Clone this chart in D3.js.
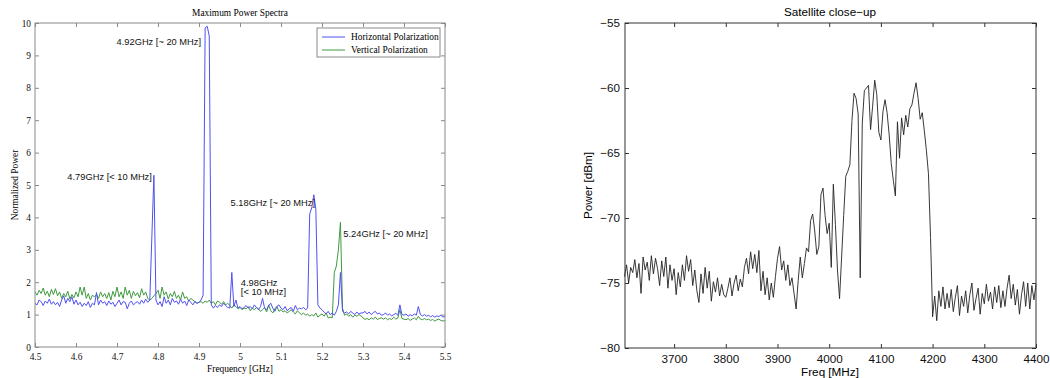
<!DOCTYPE html>
<html>
<head>
<meta charset="utf-8">
<script src="https://cdn.jsdelivr.net/npm/d3@7"></script>
<style>
  body { margin: 0; background: #fff; }
</style>
</head>
<body>
<div id="chart"></div>
<script>
// left panel: normalized max power, sampled every 5 MHz from 4.5 GHz
const leftFreqStart = 4.5;
const leftFreqStep = 0.005;

const horizontalPol = [
  1.35, 1.30, 1.45, 1.40, 1.28, 1.42, 1.35, 1.48, 1.32, 1.40,
  1.30, 1.38, 1.25, 1.45, 1.58, 1.35, 1.50, 1.40, 1.55, 1.32,
  1.45, 1.30, 1.38, 1.25, 1.35, 1.28, 1.40, 1.22, 1.35, 1.30,
  1.68, 1.30, 1.45, 1.35, 1.40, 1.28, 1.42, 1.32, 1.38, 1.25,
  1.35, 1.45, 1.30, 1.40, 1.38, 1.18, 1.35, 1.42, 1.30, 1.36,
  1.40, 1.32, 1.45, 1.35, 1.48, 1.38, 1.45, 3.40, 5.30, 1.45,
  1.30, 1.40, 1.25, 1.55, 1.35, 1.45, 1.30, 1.50, 1.38, 1.42,
  1.32, 1.48, 1.35, 1.42, 1.28, 1.45, 1.38, 1.30, 1.40, 1.35,
  1.38, 1.45, 1.60, 9.85, 9.90, 9.60, 1.30, 1.20, 1.28, 1.22,
  1.30, 1.25, 1.35, 1.28, 1.22, 1.20, 2.30, 1.25, 1.45, 1.20,
  1.25, 1.18, 1.22, 1.28, 1.20, 1.25, 1.18, 1.30, 1.22, 1.15,
  1.25, 1.50, 1.20, 1.15, 1.28, 1.35, 1.20, 1.10, 1.25, 1.30,
  1.20, 1.15, 1.25, 1.12, 1.18, 1.22, 1.10, 1.28, 1.15, 1.20,
  1.18, 1.22, 1.15, 1.20, 4.10, 4.30, 4.70, 4.25, 1.30, 1.20,
  1.15, 1.08, 1.02, 1.10, 1.00, 1.05, 0.98, 1.10, 1.30, 2.30,
  1.10, 1.05, 1.08, 1.02, 1.10, 1.05, 1.00, 1.08, 1.02, 1.05,
  1.05, 1.10, 1.02, 1.08, 1.00, 1.06, 1.10, 1.02, 1.05, 0.98,
  1.00, 1.05, 0.98, 1.02, 0.96, 1.00, 1.04, 0.98, 1.30, 1.00,
  0.98, 1.02, 0.95, 1.00, 0.96, 1.02, 0.98, 1.25, 1.00, 0.96,
  1.00, 0.95, 0.98, 0.93, 0.97, 0.92, 0.96, 0.94, 0.98, 0.92,
  0.95
];

const verticalPol = [
  1.70, 1.60, 1.75, 1.65, 1.82, 1.60, 1.72, 1.55, 1.78, 1.62,
  1.80, 1.58, 1.70, 1.50, 1.65, 1.55, 1.72, 1.48, 1.62, 1.52,
  1.70, 1.55, 1.85, 1.60, 1.85, 1.50, 1.65, 1.45, 1.60, 1.55,
  1.62, 1.50, 1.70, 1.55, 1.65, 1.50, 1.68, 1.45, 1.72, 1.55,
  1.85, 1.55, 1.70, 1.50, 1.85, 1.60, 1.75, 1.50, 1.72, 1.58,
  1.68, 1.52, 1.80, 1.60, 1.70, 1.50, 1.45, 1.50, 1.58, 1.65,
  1.75, 1.50, 1.85, 1.60, 1.70, 1.48, 1.65, 1.55, 1.72, 1.50,
  1.60, 1.45, 1.70, 1.50, 1.55, 1.42, 1.50, 1.45, 1.40, 1.35,
  1.38, 1.40, 1.35, 1.42, 1.38, 1.45, 1.35, 1.40, 1.30, 1.42,
  1.38, 1.32, 1.40, 1.30, 1.35, 1.28, 1.20, 1.30, 1.25, 1.18,
  1.22, 1.15, 1.20, 1.18, 1.25, 1.12, 1.20, 1.15, 1.22, 1.18,
  1.10, 1.15, 1.22, 1.08, 1.30, 1.12, 1.05, 1.18, 1.25, 1.10,
  1.15, 1.08, 1.12, 1.05, 1.10, 1.15, 1.08, 1.02, 1.12, 1.05,
  1.00, 1.05, 0.98, 1.02, 0.95, 1.00, 0.96, 1.05, 0.92, 0.98,
  1.02, 0.95, 1.05, 0.90, 0.92, 0.90, 2.30, 2.50, 3.00, 3.85,
  1.20, 0.98, 1.02, 0.95, 1.00, 0.92, 0.98, 0.95, 1.00, 0.96,
  0.90, 0.85, 0.88, 0.84, 0.90, 0.86, 0.92, 0.85, 0.88, 0.90,
  0.86, 0.90, 0.84, 0.88, 0.85, 0.92, 0.86, 0.90, 1.15, 0.88,
  0.86, 0.84, 0.88, 0.82, 0.86, 0.90, 0.84, 0.95, 0.86, 0.84,
  0.88, 0.84, 0.86, 0.82, 0.85, 0.80, 0.84, 0.86, 0.82, 0.80,
  0.82
];

const leftXTicks = [4.5, 4.6, 4.7, 4.8, 4.9, 5, 5.1, 5.2, 5.3, 5.4, 5.5];
const leftYTicks = [0, 1, 2, 3, 4, 5, 6, 7, 8, 9, 10];
const seriesNames = ['Horizontal Polarization', 'Vertical Polarization'];

// peak labels, placed in data units (anchor 'end' = text ends there)
const peakLabels = [
  { lines: ['4.92GHz [~ 20 MHz]'], f: 4.905, v: 9.42, anchor: 'end' },
  { lines: ['4.79GHz [< 10 MHz]'], f: 4.785, v: 5.26, anchor: 'end' },
  { lines: ['5.18GHz [~ 20 MHz]'], f: 5.183, v: 4.45, anchor: 'end' },
  { lines: ['5.24GHz [~ 20 MHz]'], f: 5.252, v: 3.49, anchor: 'start' },
  { lines: ['4.98GHz', '[< 10 MHz]'], f: 5.002, v: 1.97, anchor: 'start' }
];

// right panel: satellite close-up, every 4 MHz from 3604 MHz
const satFreqStart = 3604;
const satFreqStep = 4;
const satPower = [
  -74.5, -73.6, -75.0, -73.8, -74.2, -73.2, -74.6, -73.5, -75.8, -73.0,
  -74.0, -73.4, -74.8, -72.9, -74.3, -73.1, -73.9, -75.2, -73.3, -74.5,
  -73.0, -75.4, -73.6, -74.8, -73.9,
  -75.9, -74.2, -75.3, -73.6, -74.8, -72.9, -74.1, -73.2, -75.2, -74.0,
  -75.6, -76.5, -74.3, -75.8, -73.8, -75.4, -74.1, -76.4, -74.9, -75.7,
  -74.6, -76.0, -75.1, -75.9, -76.1,
  -75.4, -74.6, -76.0, -75.0, -74.4, -75.6, -74.7, -75.3, -73.8, -73.1,
  -74.3, -72.6, -73.9, -72.8, -74.2, -72.5, -75.6, -74.1, -75.9, -74.6,
  -76.3, -75.0, -76.1, -74.5, -73.1,
  -72.2, -74.0, -73.3, -74.8, -73.6, -75.2, -74.6, -75.8, -77.0, -74.8,
  -73.0, -74.6, -73.5, -72.3, -72.6, -70.2, -69.7, -71.0, -72.8, -72.2,
  -68.2, -67.7, -69.8, -71.2, -70.4,
  -73.8, -67.4, -70.5, -74.0, -76.2, -73.0, -69.8, -66.8, -66.4, -65.9,
  -62.5, -60.4, -60.8, -62.0, -74.6, -62.7, -60.2, -60.0, -59.8, -63.2,
  -61.4, -59.4, -60.5, -63.4, -64.0,
  -61.8, -60.9, -61.9, -63.6, -65.8, -67.1, -68.3, -62.6, -65.4, -62.3,
  -63.6, -62.1, -63.0, -61.6, -61.3, -60.4, -59.6, -60.8, -62.4, -61.9,
  -63.3, -64.8, -66.6, -71.5, -77.6,
  -76.0, -77.9, -75.6, -76.8, -75.3, -77.0, -75.8, -76.9, -75.5, -77.2,
  -76.1, -75.2, -77.5, -76.0, -76.8, -75.6, -77.3, -75.9, -75.0, -77.1,
  -76.2, -75.4, -77.4, -75.8, -76.6, -75.1, -76.4, -75.7, -77.0, -75.3,
  -76.5, -75.2, -76.9, -75.6, -76.8, -75.4, -74.4, -76.2, -75.1, -76.7,
  -75.5, -77.4, -75.9, -74.9, -76.8, -75.0, -77.0, -75.2, -76.3, -75.1
];
const satXTicks = [3700, 3800, 3900, 4000, 4100, 4200, 4300, 4400];
const satYTicks = [-80, -75, -70, -65, -60, -55];

const serif = "'Liberation Serif', 'Times New Roman', serif";
const sans = "'Liberation Sans', Arial, sans-serif";

const svg = d3.select('#chart').append('svg')
  .attr('width', 1050)
  .attr('height', 378)
  .style('display', 'block');

// ---------- left panel ----------
const L = { left: 35, right: 445, top: 23, bottom: 347 };
const xL = d3.scaleLinear().domain([4.5, 5.5]).range([L.left, L.right]);
const yL = d3.scaleLinear().domain([0, 10]).range([L.bottom, L.top]);

const gL = svg.append('g');
const axisGrey = '#8a8a8a';

function styleAxis(g, color, font, size) {
  g.select('.domain').remove();
  g.selectAll('line').attr('stroke', color);
  g.selectAll('text').style('font', `${size}px ${font}`).attr('fill', '#111');
}

gL.append('g')
  .attr('transform', `translate(0,${L.bottom})`)
  .call(d3.axisBottom(xL).tickValues(leftXTicks).tickSize(-4).tickPadding(6).tickFormat(d3.format('~g')))
  .call((g) => styleAxis(g, axisGrey, serif, 9.4));
gL.append('g')
  .attr('transform', `translate(0,${L.top})`)
  .call(d3.axisTop(xL).tickValues(leftXTicks).tickSize(-4).tickFormat(''))
  .call((g) => styleAxis(g, axisGrey, serif, 9.4));
gL.append('g')
  .attr('transform', `translate(${L.left},0)`)
  .call(d3.axisLeft(yL).tickValues(leftYTicks).tickSize(-4).tickPadding(4))
  .call((g) => styleAxis(g, axisGrey, serif, 9.4));
gL.append('g')
  .attr('transform', `translate(${L.right},0)`)
  .call(d3.axisRight(yL).tickValues(leftYTicks).tickSize(-4).tickFormat(''))
  .call((g) => styleAxis(g, axisGrey, serif, 9.4));

const lineL = d3.line()
  .x((d, i) => xL(leftFreqStart + i * leftFreqStep))
  .y((d) => yL(d));

gL.append('path')
  .datum(verticalPol)
  .attr('fill', 'none')
  .attr('stroke', '#3f9a3f')
  .attr('stroke-width', 1)
  .attr('d', lineL);

gL.append('path')
  .datum(horizontalPol)
  .attr('fill', 'none')
  .attr('stroke', '#5050f5')
  .attr('stroke-width', 1)
  .attr('d', lineL);

gL.append('rect')
  .attr('x', L.left).attr('y', L.top)
  .attr('width', L.right - L.left).attr('height', L.bottom - L.top)
  .attr('fill', 'none').attr('stroke', axisGrey);

peakLabels.forEach((p) => {
  const t = gL.append('text')
    .attr('x', xL(p.f))
    .attr('y', yL(p.v))
    .attr('text-anchor', p.anchor)
    .style('font', `9.3px ${sans}`)
    .attr('fill', '#111');
  p.lines.forEach((s, i) => {
    t.append('tspan')
      .attr('x', xL(p.f))
      .attr('dy', i === 0 ? '0.35em' : '0.95em')
      .text(s);
  });
});

gL.append('text')
  .attr('x', (L.left + L.right) / 2).attr('y', 13)
  .attr('text-anchor', 'middle').attr('dy', '0.35em')
  .style('font', `9.4px ${serif}`)
  .text('Maximum Power Spectra');

gL.append('text')
  .attr('x', (L.left + L.right) / 2).attr('y', 369)
  .attr('text-anchor', 'middle').attr('dy', '0.35em')
  .style('font', `9.4px ${serif}`)
  .text('Frequency [GHz]');

gL.append('text')
  .attr('transform', `translate(15,${(L.top + L.bottom) / 2}) rotate(-90)`)
  .attr('text-anchor', 'middle').attr('dy', '0.35em')
  .style('font', `9.4px ${serif}`)
  .text('Normalized Power');

// legend
const legend = gL.append('g').attr('transform', 'translate(317,28)');
legend.append('rect')
  .attr('width', 123).attr('height', 29)
  .attr('fill', '#fff').attr('stroke', axisGrey);
const legColors = ['#5050f5', '#3f9a3f'];
seriesNames.forEach((name, i) => {
  legend.append('line')
    .attr('x1', 5).attr('x2', 28)
    .attr('y1', 9 + i * 13).attr('y2', 9 + i * 13)
    .attr('stroke', legColors[i]);
  legend.append('text')
    .attr('x', 34).attr('y', 9 + i * 13).attr('dy', '0.35em')
    .style('font', `9.4px ${serif}`)
    .text(name);
});

// ---------- right panel ----------
const R = { left: 625, right: 1036, top: 23, bottom: 348 };
const xR = d3.scaleLinear().domain([3605, 4400]).range([R.left, R.right]);
const yR = d3.scaleLinear().domain([-80, -55]).range([R.bottom, R.top]);
const gR = svg.append('g');
const axisDark = '#333';

gR.append('g')
  .attr('transform', `translate(0,${R.bottom})`)
  .call(d3.axisBottom(xR).tickValues(satXTicks).tickSize(-4).tickPadding(7).tickFormat(d3.format('d')))
  .call((g) => styleAxis(g, axisDark, sans, 11.7));
gR.append('g')
  .attr('transform', `translate(0,${R.top})`)
  .call(d3.axisTop(xR).tickValues(satXTicks).tickSize(-4).tickFormat(''))
  .call((g) => styleAxis(g, axisDark, sans, 11.7));
gR.append('g')
  .attr('transform', `translate(${R.left},0)`)
  .call(d3.axisLeft(yR).tickValues(satYTicks).tickSize(-4).tickPadding(5))
  .call((g) => styleAxis(g, axisDark, sans, 11.7));
gR.append('g')
  .attr('transform', `translate(${R.right},0)`)
  .call(d3.axisRight(yR).tickValues(satYTicks).tickSize(-4).tickFormat(''))
  .call((g) => styleAxis(g, axisDark, sans, 11.7));

const lineR = d3.line()
  .x((d, i) => xR(satFreqStart + i * satFreqStep))
  .y((d) => yR(d));

gR.append('path')
  .datum(satPower)
  .attr('fill', 'none')
  .attr('stroke', '#222')
  .attr('stroke-width', 0.9)
  .attr('d', lineR);

gR.append('rect')
  .attr('x', R.left).attr('y', R.top)
  .attr('width', R.right - R.left).attr('height', R.bottom - R.top)
  .attr('fill', 'none').attr('stroke', axisDark);

gR.append('text')
  .attr('x', 830).attr('y', 12)
  .attr('text-anchor', 'middle').attr('dy', '0.35em')
  .style('font', `11.7px ${sans}`)
  .text('Satellite close\u2212up');

gR.append('text')
  .attr('x', 830).attr('y', 372)
  .attr('text-anchor', 'middle').attr('dy', '0.35em')
  .style('font', `11.7px ${sans}`)
  .text('Freq [MHz]');

gR.append('text')
  .attr('transform', `translate(588,${(R.top + R.bottom) / 2}) rotate(-90)`)
  .attr('text-anchor', 'middle').attr('dy', '0.35em')
  .style('font', `11.7px ${sans}`)
  .text('Power [dBm]');
</script>
</body>
</html>
